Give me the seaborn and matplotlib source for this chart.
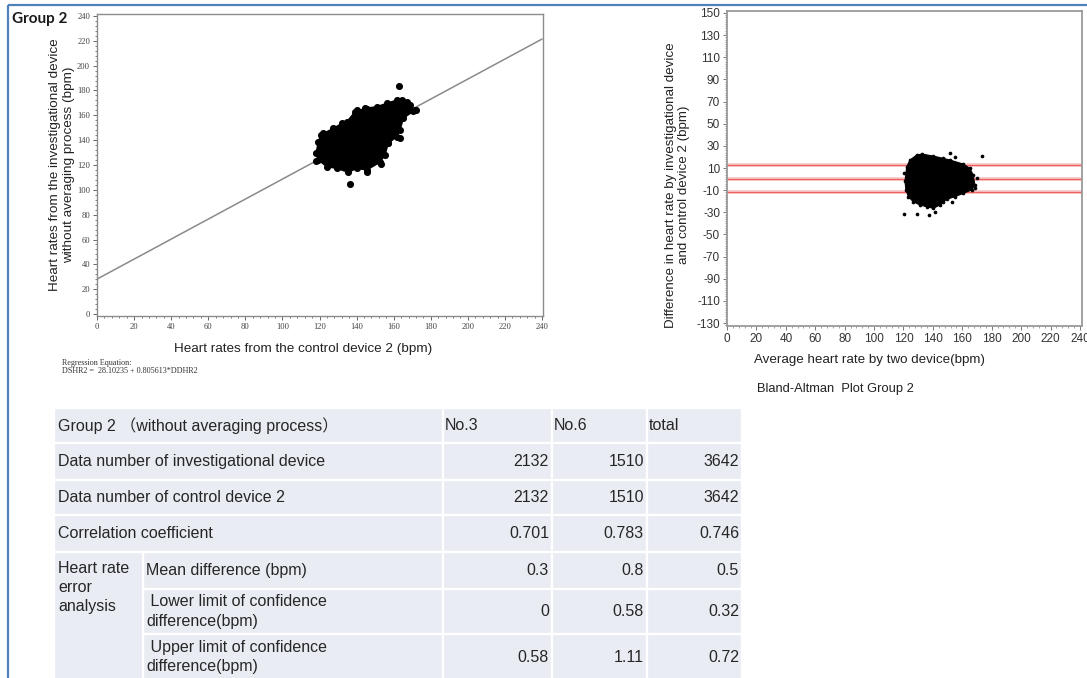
import matplotlib
matplotlib.use("Agg")
import matplotlib.pyplot as plt
import seaborn as sns
import pandas as pd
from matplotlib.ticker import MultipleLocator, AutoMinorLocator
from matplotlib.patches import Rectangle

# ---------------- data ----------------
reg_intercept = 28.10235
reg_slope = 0.805613
reg_x = [0, 240]

# outline of the dense point cloud (scatter 1)
blob1_x = [119.4, 120.6, 122.1, 127.5, 132.0, 134.7, 139.2, 144.6, 150.9, 156.3, 161.6, 164.3,
           168.8, 171.5, 165.2, 163.4, 161.6, 157.1, 155.3, 152.6, 145.5, 140.1, 135.6, 129.3,
           123.9, 119.4, 118.1]
blob1_y = [138.8, 144.2, 145.5, 149.5, 153.6, 154.9, 162.9, 165.6, 167.0, 169.7, 172.3, 172.3,
           168.3, 164.3, 157.6, 148.2, 142.8, 137.5, 128.1, 122.2, 116.0, 117.3, 114.1, 117.3,
           118.6, 124.0, 129.4]
out1_x = [163.1, 136.5, 145.5, 153.2, 140.1, 145.5, 167.0, 170.6, 163.4, 157.1, 118.1, 172.0]
out1_y = [183.6, 104.5, 114.1, 120.8, 164.3, 164.9, 171.0, 163.5, 142.0, 137.5, 123.2, 164.0]

# Bland-Altman
ba_mean = 0.5
ba_upper = 12.4
ba_lower = -11.6
blob2_x = [122.2, 124.4, 129.0, 132.4, 140.3, 147.0, 151.6, 160.6, 165.2, 167.4, 168.6, 166.3,
           160.6, 155.0, 149.3, 144.8, 140.3, 135.8, 131.2, 126.7, 123.3, 121.7, 121.0]
blob2_y = [11.2, 17.2, 21.7, 22.6, 20.8, 18.7, 17.2, 13.6, 9.7, 3.7, -5.4, -9.9,
           -12.9, -15.9, -18.3, -23.4, -26.4, -25.0, -23.4, -20.5, -15.9, -9.9, -2.0]
out2_x = [151.6, 155.0, 173.1, 120.6, 120.3, 129.0, 137.5, 141.4, 147.0, 152.8, 168.6, 169.7]
out2_y = [23.8, 19.6, 20.8, 5.2, -31.8, -31.6, -32.5, -29.5, -20.5, -20.5, -8.4, 0.7]

# table
table_header = ["Group 2 \uff08without averaging process\uff09", "No.3", "No.6", "total"]
row_labels = ["Data number of investigational device", "Data number of control device 2",
              "Correlation coefficient", "Mean difference (bpm)",
              " Lower limit of confidence\ndifference(bpm)",
              " Upper limit of confidence\ndifference(bpm)"]
group_label = "Heart rate\nerror\nanalysis"
col_no3 = ["2132", "2132", "0.701", "0.3", "0", "0.58"]
col_no6 = ["1510", "1510", "0.783", "0.8", "0.58", "1.11"]
col_total = ["3642", "3642", "0.746", "0.5", "0.32", "0.72"]

# ---------------- style ----------------
sns.set_theme(style="white")
plt.rcParams['font.family'] = ['Liberation Sans', 'Noto Sans CJK SC', 'DejaVu Sans']
plt.rcParams['axes.unicode_minus'] = False

W, H = 1087, 678
fig = plt.figure(figsize=(W / 100, H / 100), dpi=100)
fig.patch.set_facecolor("white")


def frac(x0, y0, x1, y1):
    return [x0 / W, 1 - y1 / H, (x1 - x0) / W, (y1 - y0) / H]


# overlay for border and table (pixel coordinates)
ov = fig.add_axes([0, 0, 1, 1])
ov.set_xlim(0, W)
ov.set_ylim(H, 0)
ov.axis("off")
ov.plot([8, 8], [5, H], color="#4f81bd", lw=1.6, solid_capstyle="butt")
ov.plot([8, W], [5, 5], color="#4f81bd", lw=1.6, solid_capstyle="butt")
ov.text(12, 19, "Group 2", fontsize=11, fontweight="bold", family=["Lato", "DejaVu Sans"],
        color="#1a1a1a", va="center", ha="left")

# ---- scatter 1 ----
ax1 = fig.add_axes(frac(97, 14, 543, 316))
df_line = pd.DataFrame({"x": reg_x, "y": [reg_intercept + reg_slope * v for v in reg_x]})
sns.lineplot(data=df_line, x="x", y="y", ax=ax1, color="#8a8a8a", lw=1.1, zorder=1)
ax1.fill(blob1_x, blob1_y, color="black", zorder=2, lw=1)
df_b1 = pd.DataFrame({"x": blob1_x + out1_x, "y": blob1_y + out1_y})
sns.scatterplot(data=df_b1, x="x", y="y", ax=ax1, color="black", s=26, edgecolor="black",
                linewidth=0, zorder=3)
ax1.set_xlim(0, 240.5)
ax1.set_ylim(-1.6, 241.6)
ax1.xaxis.set_major_locator(MultipleLocator(20))
ax1.yaxis.set_major_locator(MultipleLocator(20))
ax1.xaxis.set_minor_locator(AutoMinorLocator(5))
ax1.yaxis.set_minor_locator(AutoMinorLocator(5))
ax1.tick_params(which="both", direction="out", color="#666666", left=True, bottom=True)
ax1.tick_params(which="major", length=3, width=0.7, labelsize=6.2, pad=2)
ax1.tick_params(which="minor", length=1.5, width=0.6)
for lab in ax1.get_xticklabels() + ax1.get_yticklabels():
    lab.set_family(["Liberation Serif"])
    lab.set_color("#444444")
for sp in ax1.spines.values():
    sp.set_color("#8c8c8c")
    sp.set_linewidth(1.0)
ax1.set_xlabel("Heart rates from the control device 2 (bpm)", fontsize=9.7, color="#222222")
ax1.set_ylabel("Heart rates from the investigational device\nwithout averaging process (bpm)",
               fontsize=9.7, color="#222222", linespacing=1.15)
ax1.xaxis.set_label_coords(0.463, -0.088)
ax1.yaxis.set_label_coords(-0.05, 0.5)

ov.text(62, 367, "Regression Equation:\nDSHR2 =  28.10235 + 0.805613*DDHR2", fontsize=5.9,
        family=["Liberation Serif"], color="#333333", va="center", ha="left", linespacing=1.1)

# ---- Bland-Altman ----
ax2 = fig.add_axes(frac(727, 11, 1082, 326))
for v in [ba_upper, ba_mean, ba_lower]:
    ax2.axhline(v, color="#f4a0a0", lw=2.6, zorder=1, alpha=0.6)
    ax2.axhline(v, color="#ee6060", lw=0.9, zorder=1)
ax2.fill(blob2_x, blob2_y, color="black", zorder=2, lw=0.8)
df_b2 = pd.DataFrame({"x": blob2_x + out2_x, "y": blob2_y + out2_y})
sns.scatterplot(data=df_b2, x="x", y="y", ax=ax2, color="black", s=7, edgecolor="black",
                linewidth=0, zorder=3)
ax2.set_xlim(0, 241.4)
ax2.set_ylim(-132.7, 151.8)
ax2.xaxis.set_major_locator(MultipleLocator(20))
ax2.set_yticks(list(range(-130, 151, 20)))
ax2.xaxis.set_minor_locator(AutoMinorLocator(5))
ax2.yaxis.set_minor_locator(MultipleLocator(2))
ax2.tick_params(which="both", direction="out", color="#777777", left=True, bottom=True)
ax2.tick_params(which="major", length=3, width=0.7, labelsize=8.5, pad=2, labelcolor="#333333")
ax2.tick_params(which="minor", length=1.5, width=0.5)
for sp in ax2.spines.values():
    sp.set_color("#9a9a9a")
    sp.set_linewidth(1.3)
ax2.set_xlabel("Average heart rate by two device(bpm)", fontsize=9.6, color="#222222")
ax2.set_ylabel("Difference in heart rate by investigational device\nand control device 2 (bpm)",
               fontsize=9.6, color="#222222", linespacing=1.1)
ax2.xaxis.set_label_coords(0.40, -0.088)
ax2.yaxis.set_label_coords(-0.104, 0.448)
ov.text(757, 389, "Bland-Altman  Plot Group 2", fontsize=9.3, color="#222222", va="center", ha="left")

# ---- table ----
cell_color = "#e9edf3"
txt_color = "#262626"
row_edges = [408, 443, 480, 515, 552, 589, 634, 700]
col_edges = [54, 443, 552, 647, 742]
sub_split = 143
fs = 11.5


def cell(x0, y0, x1, y1):
    ov.add_patch(Rectangle((x0, y0), x1 - x0, y1 - y0, facecolor=cell_color,
                           edgecolor="white", lw=1.6, clip_on=True))


for r in range(7):
    y0, y1 = row_edges[r], row_edges[r + 1]
    for c in range(4):
        x0, x1 = col_edges[c], col_edges[c + 1]
        if c == 0 and r >= 4:
            cell(sub_split, y0, x1, y1)
        else:
            cell(x0, y0, x1, y1)
cell(54, row_edges[4], sub_split, row_edges[7])

hy = (row_edges[0] + row_edges[1]) / 2
ov.text(58, hy, table_header[0], fontsize=fs, color=txt_color, va="center", ha="left")
for c in range(1, 4):
    ov.text(col_edges[c] + 2, hy, table_header[c], fontsize=fs, color=txt_color,
            va="center", ha="left")

for i, lab in enumerate(row_labels):
    y0, y1 = row_edges[i + 1], row_edges[i + 2]
    yc = (y0 + y1) / 2
    if i == 5:
        yc = 657
    xl = 58 if i < 3 else 146
    ov.text(xl, yc, lab, fontsize=fs, color=txt_color, va="center", ha="left", linespacing=1.35)
    for c, col in enumerate([col_no3, col_no6, col_total]):
        ov.text(col_edges[c + 2] - 3, yc, col[i], fontsize=fs, color=txt_color,
                va="center", ha="right")

ov.text(58, 561, group_label, fontsize=fs, color=txt_color, va="top", ha="left", linespacing=1.35)

fig.savefig("out.png", dpi=100, facecolor="white")
